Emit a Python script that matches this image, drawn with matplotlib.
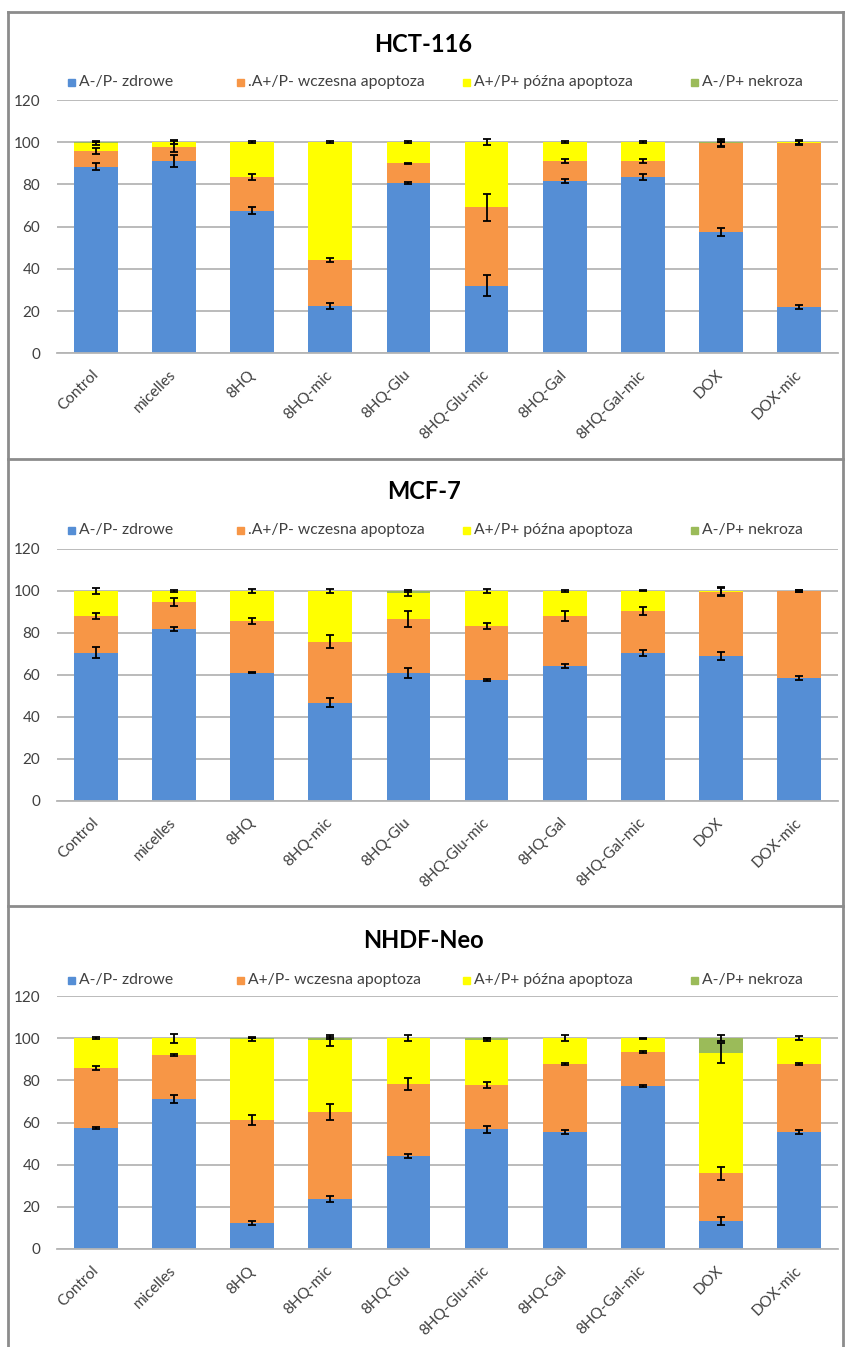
import matplotlib
matplotlib.use("Agg")
import matplotlib.pyplot as plt
from matplotlib.patches import Rectangle
from matplotlib.lines import Line2D
import numpy as np

plt.rcParams['font.family'] = ['Lato', 'DejaVu Sans']

W, H = 847, 1347

categories = ['Control', 'micelles', '8HQ', '8HQ-mic', '8HQ-Glu', '8HQ-Glu-mic',
              '8HQ-Gal', '8HQ-Gal-mic', 'DOX', 'DOX-mic']
yticks = [0, 20, 40, 60, 80, 100, 120]

# HCT-116
hct_blue = [88.5, 91.1, 67.6, 22.4, 80.6, 32.0, 81.7, 83.4, 57.5, 22.1]
hct_orange = [7.4, 6.8, 15.8, 21.8, 9.4, 37.2, 9.6, 7.9, 42.0, 77.5]
hct_yellow = [3.6, 2.1, 16.6, 55.8, 10.0, 30.8, 8.7, 8.7, 0.4, 0.4]
hct_green = [0.5, 0, 0, 0, 0, 0, 0, 0, 0.1, 0]
hct_blue_err = [1.5, 3.0, 1.5, 1.5, 0.5, 5.0, 1.0, 1.5, 2.0, 1.0]
hct_orange_err = [1.5, 2.5, 1.5, 1.0, 0.3, 6.5, 1.0, 1.0, 1.5, 1.0]
hct_yellow_err = [1.0, 1.0, 0.5, 0.5, 0.5, 1.5, 0.5, 0.5, 1.5, 1.0]
hct_green_err = [0, 0, 0, 0, 0, 0, 0, 0, 0, 0]

# MCF-7
mcf_blue = [70.5, 81.6, 61.0, 46.7, 60.7, 57.5, 64.1, 70.5, 68.9, 58.3]
mcf_orange = [17.4, 13.0, 24.7, 29.0, 25.8, 25.7, 23.8, 19.8, 30.6, 41.4]
mcf_yellow = [12.1, 5.4, 14.3, 24.3, 12.5, 16.8, 12.1, 9.7, 0.5, 0.3]
mcf_green = [0, 0, 0, 0, 1.0, 0, 0, 0, 0, 0]
mcf_blue_err = [2.5, 1.0, 0.3, 2.0, 2.5, 0.5, 1.0, 1.5, 2.0, 1.0]
mcf_orange_err = [1.5, 2.0, 1.5, 3.0, 4.0, 1.5, 2.5, 2.0, 2.0, 0.5]
mcf_yellow_err = [1.5, 0.5, 1.0, 1.0, 1.5, 1.0, 0.5, 0.3, 2.0, 0.5]
mcf_green_err = [0, 0, 0, 0, 0.5, 0, 0, 0, 0, 0]

# NHDF-Neo
nhdf_blue = [57.4, 71.1, 12.2, 23.7, 44.1, 56.8, 55.7, 77.5, 13.3, 55.7]
nhdf_orange = [28.7, 21.0, 49.0, 41.3, 34.2, 20.9, 32.0, 16.2, 22.6, 32.0]
nhdf_yellow = [13.9, 7.9, 38.3, 34.0, 21.7, 21.6, 12.3, 6.3, 57.0, 12.3]
nhdf_green = [0, 0, 0.5, 1.0, 0, 0.7, 0, 0, 7.1, 0]
nhdf_blue_err = [0.3, 2.0, 1.0, 1.5, 1.0, 1.5, 1.0, 0.5, 2.0, 1.0]
nhdf_orange_err = [1.0, 0.5, 2.5, 4.0, 3.0, 1.5, 0.5, 0.5, 3.0, 0.5]
nhdf_yellow_err = [0.5, 2.0, 1.0, 2.5, 1.5, 0.5, 1.5, 0.3, 4.7, 1.0]
nhdf_green_err = [0, 0, 0, 0.5, 0, 0, 0, 0, 1.5, 0]

series_labels = ['A-/P- zdrowe', '.A+/P- wczesna apoptoza', 'A+/P+ późna apoptoza', 'A-/P+ nekroza']
series_labels_nhdf = ['A-/P- zdrowe', 'A+/P- wczesna apoptoza', 'A+/P+ późna apoptoza', 'A-/P+ nekroza']
colors = ['#558ED5', '#F79646', '#FFFF00', '#9BBB59']

panels = [
    ('HCT-116', [hct_blue, hct_orange, hct_yellow, hct_green],
     [hct_blue_err, hct_orange_err, hct_yellow_err, hct_green_err], series_labels),
    ('MCF-7', [mcf_blue, mcf_orange, mcf_yellow, mcf_green],
     [mcf_blue_err, mcf_orange_err, mcf_yellow_err, mcf_green_err], series_labels),
    ('NHDF-Neo', [nhdf_blue, nhdf_orange, nhdf_yellow, nhdf_green],
     [nhdf_blue_err, nhdf_orange_err, nhdf_yellow_err, nhdf_green_err], series_labels_nhdf),
]

# pixel layout of each panel: (y of 120 line, y of 0 line, title y, legend y)
layout = [(100.1, 353.3, 45, 82), (548.7, 800.7, 492, 530), (996.2, 1249.0, 940, 980)]
ax_left, ax_right = 57, 838
legend_x = [72, 241, 467, 695]


def fx(px):
    return px / W


def fy(py):
    return 1 - py / H


fig = plt.figure(figsize=(W / 100, H / 100), dpi=100)

# panel frames
border = '#8c8c8c'
for x0, y0, x1, y1 in [(8, 12, 843, 12), (8, 12, 8, 1347), (843, 12, 843, 1347),
                       (8, 459, 843, 459), (8, 906, 843, 906)]:
    fig.add_artist(Line2D([fx(x0), fx(x1)], [fy(y0), fy(y1)], color=border, lw=2))

x = np.arange(len(categories))
for (title, values, errors, labels), (ytop, ybot, ty, ly) in zip(panels, layout):
    ax = fig.add_axes([fx(ax_left), fy(ybot), fx(ax_right - ax_left), (ybot - ytop) / H])
    bottom = np.zeros(len(categories))
    for vals, errs, c in zip(values, errors, colors):
        vals = np.array(vals)
        ax.bar(x, vals, 0.56, bottom=bottom, color=c, zorder=2)
        top = bottom + vals
        mask = vals > 0
        ax.errorbar(x[mask], top[mask], yerr=np.array(errs)[mask], fmt='none',
                    ecolor='black', elinewidth=1.3, capsize=3, capthick=1.3, zorder=3)
        bottom = top
    ax.set_xlim(-0.5, len(categories) - 0.5)
    ax.set_ylim(0, 120)
    ax.set_yticks(yticks)
    ax.yaxis.grid(True, color='#b5b5b5', lw=1.3, zorder=0)
    ax.set_axisbelow(True)
    for s in ['left', 'right', 'top']:
        ax.spines[s].set_visible(False)
    ax.spines['bottom'].set_color('#b5b5b5')
    ax.spines['bottom'].set_linewidth(1.3)
    ax.tick_params(axis='both', length=0, labelsize=11, colors='#404040')
    ax.tick_params(axis='y', pad=12)
    ax.tick_params(axis='x', pad=14)
    ax.set_xticks(x)
    ax.set_xticklabels(categories, rotation=45, ha='right', va='center',
                       rotation_mode='anchor')

    fig.text(0.5, fy(ty), title, ha='center', va='center', fontsize=17,
             fontweight='bold', color='black')
    for lx, lab, c in zip(legend_x, labels, colors):
        fig.add_artist(Rectangle((fx(lx - 4), fy(ly + 4)), fx(7), 7 / H,
                                 transform=fig.transFigure, color=c))
        fig.text(fx(lx + 7), fy(ly), lab, ha='left', va='center',
                 fontsize=11.3, color='#404040')

fig.savefig('out.png', dpi=100)
